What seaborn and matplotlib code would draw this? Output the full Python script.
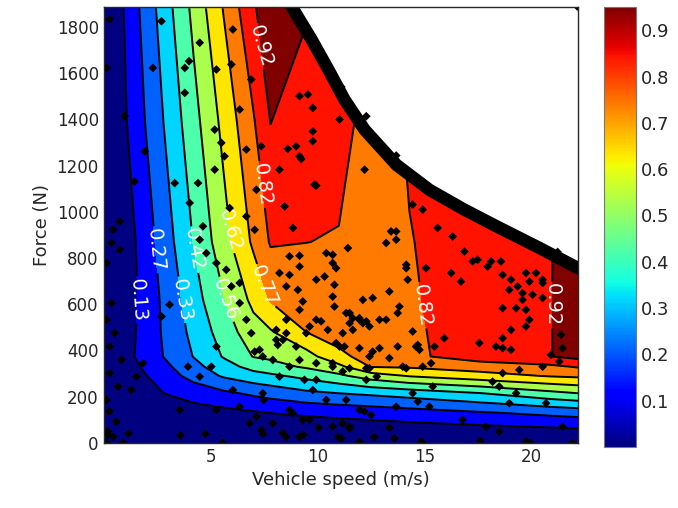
import matplotlib
matplotlib.use("Agg")
import matplotlib.pyplot as plt
import numpy as np
import seaborn as sns
from matplotlib.colors import Normalize
from matplotlib.cm import ScalarMappable

# === Carte de rendement (grille grossière) ===
vitesse_grille = [0, 1.4, 2.8, 4.2, 5.6, 7.0, 7.8, 9.5, 11.0, 12.5, 14.3, 17.6, 20.9, 22.2]
force_grille = [0, 130, 215, 290, 330, 374, 480, 620, 870, 1390, 1880]
rendement = [
    [0, 0.00, 0.000, 0.000, 0.000, 0.000, 0.000, 0.000, 0.000, 0.000, 0.000, 0.000, 0.000, 0.000],
    [0, 0.03, 0.075, 0.088, 0.100, 0.118, 0.131, 0.146, 0.158, 0.170, 0.187, 0.218, 0.252, 0.266],
    [0, 0.06, 0.130, 0.170, 0.209, 0.246, 0.266, 0.306, 0.328, 0.346, 0.370, 0.423, 0.498, 0.525],
    [0, 0.09, 0.178, 0.263, 0.339, 0.386, 0.406, 0.455, 0.504, 0.574, 0.630, 0.683, 0.730, 0.741],
    [0, 0.11, 0.203, 0.296, 0.384, 0.461, 0.489, 0.539, 0.598, 0.728, 0.735, 0.772, 0.800, 0.830],
    [0, 0.127, 0.231, 0.331, 0.433, 0.529, 0.543, 0.586, 0.700, 0.760, 0.800, 0.870, 0.918, 0.950],
    [0, 0.121, 0.240, 0.355, 0.470, 0.586, 0.614, 0.725, 0.765, 0.775, 0.805, 0.870, 0.918, 0.950],
    [0, 0.112, 0.247, 0.383, 0.519, 0.649, 0.732, 0.760, 0.775, 0.775, 0.815, 0.850, 0.918, 0.950],
    [0, 0.119, 0.274, 0.430, 0.585, 0.740, 0.830, 0.822, 0.815, 0.790, 0.818, 0.860, 0.918, 0.950],
    [0, 0.168, 0.329, 0.490, 0.651, 0.812, 0.922, 0.860, 0.860, 0.780, 0.830, 0.860, 0.900, 0.920],
    [0, 0.195, 0.373, 0.550, 0.728, 0.906, 0.990, 0.930, 0.880, 0.850, 0.850, 0.850, 0.850, 0.850],
]

niveaux = [0.13, 0.229, 0.328, 0.426, 0.525, 0.624, 0.723, 0.821, 0.92]
etiquettes = ["0.13", "0.27", "0.33", "0.42", "0.56", "0.62", "0.77", "0.82", "0.92"]

# positions et angles des étiquettes (vitesse, force)
etiq_niveau = [0.13, 0.229, 0.328, 0.426, 0.525, 0.624, 0.723, 0.821, 0.92, 0.821, 0.92]
etiq_vitesse = [1.59, 2.48, 3.64, 4.25, 5.65, 6.03, 7.6, 7.4, 8.0, 15.0, 21.0]
etiq_force = [619, 836, 619, 836, 619, 922, 680, 1117, 1723, 597, 597]
etiq_angle = [-86, -84, -80, -80, -70, -74, -68, -82, -74, -82, -90]

# === Limite de puissance (bande noire) ===
limite_vitesse = [8.7, 8.79, 9.72, 10.56, 11.26, 12.20, 13.69, 15.23, 16.87, 18.50, 20.37, 22.15, 22.5]
limite_force = [1920, 1887, 1745, 1606, 1485, 1355, 1203, 1095, 1009, 931, 844, 758, 745]

# === Points de fonctionnement mesurés ===
vitesse_points = [
    2.70, 6.04, 4.49, 2.30, 3.79, 5.27, 5.97, 3.99, 6.90, 3.79, 9.16, 9.55, 11.11, 9.78, 11.03,
    8.61, 9.00, 7.37, 9.16, 9.78, 9.78, 5.19, 5.50, 5.65, 6.36, 3.32, 4.41, 5.19, 7.14, 9.86,
    8.22, 1.45, 1.92, 4.02, 0.75, 5.89, 0.28, 0.13, 0.98, 9.24, 6.67, 9.94, 8.46, 8.85, 6.67,
    7.06, 12.20, 13.44, 13.68, 13.21, 11.42, 10.71, 8.69, 9.16, 14.45, 14.92, 15.62, 14.15, 15.08, 10.87,
    8.69, 10.33, 12.28, 13.68, 21.23, 22.15,
    13.68, 10.79, 13.36, 12.58, 12.12, 11.50, 11.96, 12.12, 12.43, 11.65, 11.18, 10.79, 13.83, 13.75, 12.90,
    13.21, 14.15, 14.22, 14.61, 14.69, 14.77, 12.58, 12.90, 13.75, 11.26, 10.87, 16.32, 16.87, 17.26, 17.49,
    18.12, 17.96, 18.58, 16.25, 16.71, 18.66, 19.05, 19.36, 19.75, 20.22, 20.53, 19.91, 20.53, 18.97, 19.59,
    20.06, 18.66, 19.29, 19.75, 19.91, 19.05, 19.75, 18.66, 18.35, 19.05, 18.66, 17.57, 15.93, 15.47, 19.59,
    20.53, 21.39, 20.92, 21.46, 21.31, 20.53, 19.44, 18.19, 18.50, 18.66, 14.92, 13.99, 12.28, 11.18, 15.31,
    14.45, 14.69, 12.20, 12.51, 13.68, 15.23, 15.39, 19.29, 18.97, 20.69, 16.79, 17.88, 11.18, 11.11, 11.96,
    13.60, 14.85, 18.50, 19.75, 21.46,
    0.43, 0.36, 0.75, 0.13, 0.36, 0.13, 0.51, 0.28, 0.83, 0.28, 0.67, 0.13, 0.28, 0.59, 0.20,
    0.43, 0.13, 0.90, 1.29, 1.53, 1.84, 2.70, 3.08, 3.94, 3.55, 5.03, 5.27, 4.49, 5.27, 6.04,
    6.36, 6.82, 7.44, 8.22, 8.69, 9.00, 9.16, 9.39, 9.78, 10.41, 10.71, 11.03, 8.07, 8.54, 9.16,
    9.47, 9.94, 10.71, 9.94, 9.16, 10.41, 10.71, 8.54, 8.22, 7.29, 6.90, 6.67, 6.36, 5.97, 5.73,
    5.27, 4.80, 4.49, 4.64, 6.36, 7.91, 8.07, 8.85, 9.63, 10.71, 7.91,
    3.59, 4.76, 5.56, 7.45, 8.53, 9.34, 10.05, 10.96, 11.50, 11.94, 12.66, 13.36, 14.91, 17.61, 19.94,
    21.92, 0.17, 0.89, 1.16,
    9.08, 9.31, 10.17, 10.48, 9.63, 11.34, 11.65, 11.96, 11.50, 12.28, 14.45, 11.96, 12.43, 13.36, 14.15,
    12.43, 12.77, 12.28, 8.38, 8.14, 8.54, 7.06, 7.44, 9.94, 10.71, 11.50, 9.94, 7.48, 8.69, 9.31,
    11.34, 11.96, 7.37, 8.38, 9.16, 11.50, 7.14,
]
force_points = [
    1824, 1788, 1731, 1622, 1622, 1615, 1637, 1651, 1572, 1514, 1500, 1507, 1540, 1449, 1399,
    1272, 1283, 1283, 1240, 1348, 1305, 1355, 1298, 1240, 1442, 1124, 1124, 1182, 1095, 1117,
    1182, 1131, 1261, 1038, 958, 1016, 1832, 1622, 1413, 1228, 1269, 1113, 1023, 930, 980,
    922, 1182, 915, 915, 865, 843, 814, 807, 810, 1031, 1009, 930, 756, 756, 756,
    727, 720, 1413, 1243, 826, 1888,
    879, 684, 655, 627, 619, 562, 533, 518, 504, 489, 475, 590, 590, 562, 533,
    533, 771, 706, 417, 424, 403, 395, 410, 417, 417, 432, 893, 828, 785, 792,
    785, 763, 785, 735, 698, 727, 706, 677, 735, 735, 706, 698, 692, 662, 648,
    641, 583, 583, 576, 533, 489, 504, 453, 417, 403, 410, 432, 453, 417, 619,
    627, 468, 381, 410, 352, 330, 316, 265, 244, 302, 330, 330, 323, 309, 345,
    215, 179, 136, 121, 157, 157, 244, 215, 172, 172, 100, 71, 85, 20, 6,
    20, 6, 49, 6, 71,
    922, 865, 836, 778, 605, 533, 475, 417, 359, 302, 244, 186, 136, 92, 49,
    27, 0, 0, 229, 287, 345, 547, 598, 330, 143, 330, 417, 287, 143, 229,
    157, 85, 215, 287, 330, 417, 359, 273, 229, 186, 330, 417, 489, 533, 576,
    475, 533, 633, 706, 763, 821, 778, 677, 735, 403, 475, 533, 605, 677, 749,
    778, 821, 879, 937, 692, 359, 446, 129, 100, 71, 85,
    33, 39, 0, 39, 26, 35, 66, 26, 63, 0, 26, 66, 0, 9, 0,
    0, 35, 0, 41,
    662, 612, 526, 489, 504, 562, 540, 540, 518, 526, 482, 410, 374, 367, 323,
    323, 287, 273, 446, 424, 475, 395, 374, 345, 345, 323, 273, 186, 143, 100,
    186, 143, 56, 42, 27, 71, 114,
]

sns.set_style("ticks", {"xtick.direction": "in", "ytick.direction": "in"})
plt.rcParams["font.family"] = ["DejaVu Sans"]

fig = plt.figure(figsize=(6.78, 5.08), dpi=100)
ax = fig.add_axes([0.153, 0.128, 0.700, 0.858])
cax = fig.add_axes([0.891, 0.120, 0.047, 0.866])

jet = plt.get_cmap("jet")
couleurs = [jet(i / 9) for i in range(10)]

V, F = np.meshgrid(vitesse_grille, force_grille)
Z = np.array(rendement)

ax.contourf(V, F, Z, levels=[-0.05] + niveaux + [1.05], colors=couleurs, zorder=1)

# une ligne de niveau par appel, pour placer chaque étiquette sur la bonne ligne
traits = {}
for lv in niveaux:
    traits[lv] = ax.contour(V, F, Z, levels=[lv], colors="black", linewidths=1.4, zorder=2)

for lv, vx, fy, ang in zip(etiq_niveau, etiq_vitesse, etiq_force, etiq_angle):
    txt = etiquettes[niveaux.index(lv)]
    textes = ax.clabel(traits[lv], manual=[(vx, fy)], fmt={lv: txt}, inline=True,
                       inline_spacing=2, fontsize=14, colors="white")
    textes[-1].set_rotation(ang)

# zone hors limite en blanc + bande noire
ax.fill_between(limite_vitesse, limite_force, 2100, color="white", zorder=3)
ax.plot(limite_vitesse, limite_force, color="black", linewidth=9, zorder=4,
        solid_capstyle="butt")

sns.scatterplot(x=vitesse_points, y=force_points, marker="D", color="black", s=20,
                edgecolor="none", ax=ax, zorder=5)

ax.set_xlim(0, 22.2)
ax.set_ylim(0, 1885)
ax.set_xticks([5, 10, 15, 20])
ax.set_yticks(range(0, 1801, 200))
ax.tick_params(labelsize=12, direction="in", top=True, right=True, length=4)
ax.set_xlabel("Vehicle speed (m/s)", fontsize=13)
ax.set_ylabel("Force (N)", fontsize=13)
for sp in ax.spines.values():
    sp.set_visible(True)
    sp.set_linewidth(1.0)
    sp.set_zorder(6)

cb = fig.colorbar(ScalarMappable(norm=Normalize(0.0, 0.95), cmap="jet"), cax=cax,
                  ticks=[0.1, 0.2, 0.3, 0.4, 0.5, 0.6, 0.7, 0.8, 0.9])
cb.ax.tick_params(labelsize=13, direction="in", left=True, right=True, length=5)
cb.outline.set_edgecolor("#777777")

fig.savefig("out.png", dpi=100)
